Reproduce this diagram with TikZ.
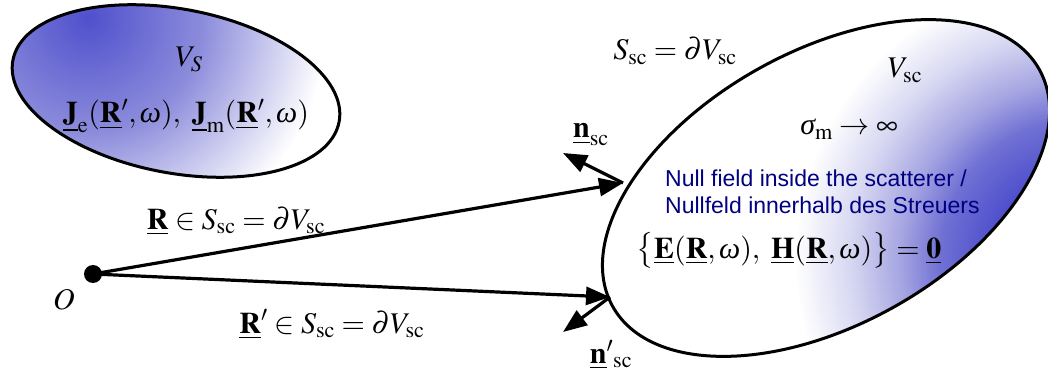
\documentclass[tikz,border=0pt]{standalone}
\usepackage{mathptmx}
\usepackage[no-math]{fontspec}
\setmainfont{Liberation Serif}
\newfontfamily\sansf{Liberation Sans}
\usetikzlibrary{arrows.meta}
\definecolor{dkblue}{RGB}{80,80,205}
\definecolor{lavA}{RGB}{165,165,226}
\definecolor{lavB}{RGB}{112,112,212}
\definecolor{lavC}{RGB}{215,215,242}
\definecolor{vsmid}{RGB}{140,140,220}
\definecolor{navytxt}{RGB}{0,0,128}
\pgfdeclareradialshading{scshade}{\pgfpointorigin}{color(0bp)=(dkblue); color(7.8bp)=(dkblue); color(12.1bp)=(lavB); color(15.5bp)=(lavA); color(19.8bp)=(lavC); color(24.6bp)=(white); color(25bp)=(white); color(50bp)=(white)}
\pgfdeclareradialshading{vsshade}{\pgfpointorigin}{color(0bp)=(dkblue); color(12bp)=(vsmid); color(25bp)=(white); color(50bp)=(white)}
\newcommand{\gom}{\mbox{\itshape ω}}
\newcommand{\gsig}{\mbox{\itshape σ}}
\begin{document}
\begin{tikzpicture}[x=1pt,y=-1pt,
  vec/.style={line width=3.2pt,-{Triangle[length=24pt,width=18pt]}},
  rim/.style={line width=3pt},
  mathtxt/.style={font=\fontsize{30}{36}\selectfont, inner sep=0pt, anchor=base},
  nulltxt/.style={font=\sansf\fontsize{23}{27}\selectfont, text=navytxt, inner sep=0pt, anchor=base west}]
\useasboundingbox (0,0) rectangle (1048,374);
% source volume V_S
\begin{scope}
  \clip[rotate around={-10.7:(176,91)}] (176,91) ellipse [x radius=166, y radius=82];
  \shade[shading=vsshade] (88,18) circle [radius=240];
\end{scope}
\draw[rim, rotate around={-10.7:(176,91)}] (176,91) ellipse [x radius=166, y radius=82];
% scatterer V_sc
\begin{scope}
  \clip[rotate around={29:(826,188)}] (826,188) ellipse [x radius=244, y radius=137];
  \shade[shading=scshade] (1080,260) circle [radius=290];
\end{scope}
\draw[rim, rotate around={29:(826,188)}] (826,188) ellipse [x radius=244, y radius=137];
% points
\coordinate (P) at (623,183);
\coordinate (Pp) at (610,297);
\coordinate (N1) at (563,153);
\coordinate (N2) at (563,332);
\node[circle, fill=black, inner sep=0pt, minimum size=18pt] (O) at (93,274) {};
% vectors
\draw[vec] (O.center) -- (P);
\draw[vec] (O.center) -- (Pp);
\draw[vec] (P) -- (N1);
\draw[vec] (Pp) -- (N2);
% labels
\node[mathtxt] (vs) at (189,67) {$V_S$};
\node[mathtxt] (jform) at (186,123) {$\underline{\mathbf{J}}_{\mathrm{e}}(\underline{\mathbf{R}}',\gom),\ \underline{\mathbf{J}}_{\mathrm{m}}(\underline{\mathbf{R}}',\gom)$};
\node[mathtxt] (ssc) at (675,60) {$S_{\mathrm{sc}}=\partial V_{\mathrm{sc}}$};
\node[mathtxt] (vsc) at (905,78) {$V_{\mathrm{sc}}$};
\node[mathtxt] (sigma) at (849,135) {$\gsig_{\mathrm{m}}\to\infty$};
\node[nulltxt] (nullA) at (665,186) {Null field inside the scatterer /};
\node[nulltxt] (nullB) at (665,213) {Nullfeld innerhalb des Streuers};
\node[mathtxt] (fieldeq) at (789,258) {$\bigl\{\underline{\mathbf{E}}(\underline{\mathbf{R}},\gom),\ \underline{\mathbf{H}}(\underline{\mathbf{R}},\gom)\bigr\}=\underline{\mathbf{0}}$};
\node[mathtxt] (nsc) at (591,138) {$\underline{\mathbf{n}}_{\mathrm{sc}}$};
\node[mathtxt] (nscp) at (611,363) {$\underline{\mathbf{n}}^{\prime}{}_{\mathrm{sc}}$};
\node[mathtxt] (olab) at (64,309) {$O$};
\node[mathtxt] (rlab) at (236,229) {$\underline{\mathbf{R}}\in S_{\mathrm{sc}}=\partial V_{\mathrm{sc}}$};
\node[mathtxt] (rplab) at (332,333) {$\underline{\mathbf{R}}'\in S_{\mathrm{sc}}=\partial V_{\mathrm{sc}}$};
\end{tikzpicture}
\end{document}
